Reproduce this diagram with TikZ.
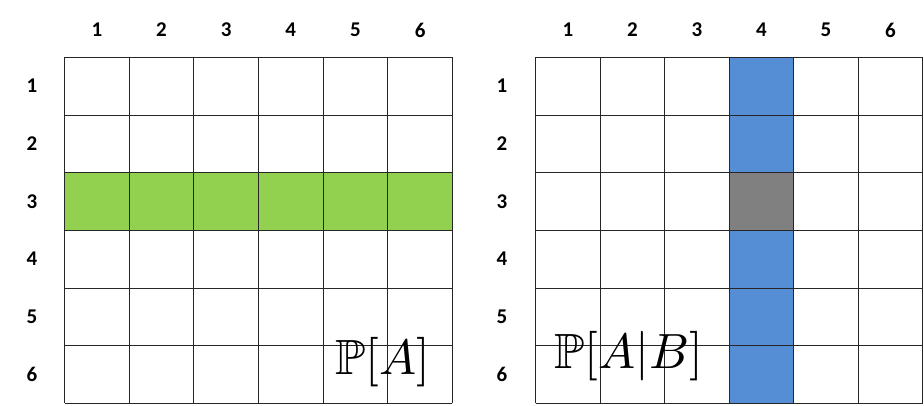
\documentclass[tikz,border=0pt]{standalone}
\usepackage{amssymb}
\usepackage{fontspec}
\newfontfamily\lblfont{Carlito}
\definecolor{cgreen}{RGB}{146,208,80}
\definecolor{cblue}{RGB}{85,142,213}
\definecolor{cgrey}{RGB}{128,128,128}
\tikzset{
  gridline/.style={draw=black!85, line width=0.9pt},
  lbl/.style={font=\lblfont\bfseries\fontsize{21}{23}\selectfont, inner sep=0pt},
  mathlbl/.style={font=\fontsize{10}{12}\selectfont, inner sep=0pt, anchor=base, scale=4.95}
}
\begin{document}
\begin{tikzpicture}[x=1pt,y=-1pt]
\useasboundingbox (0,0) rectangle (924,405);
\def\ya{57.3}\def\rh{57.67}
% left grid
\def\xa{64.5}\def\cw{64.65}
\fill[cgreen] (\xa,\ya+2*\rh) rectangle (\xa+6*\cw,\ya+3*\rh);
\foreach \i in {0,...,6}{
  \draw[gridline] (\xa+\i*\cw,\ya) -- (\xa+\i*\cw,\ya+6*\rh);
  \draw[gridline] (\xa,\ya+\i*\rh) -- (\xa+6*\cw,\ya+\i*\rh);
}
\foreach \i in {1,...,6}{
  \node[lbl] (lc\i) at (\xa+\i*\cw-0.5*\cw,30) {\i};
  \node[lbl] (lr\i) at (32,\ya+\i*\rh-0.5*\rh) {\i};
}
\node[mathlbl] (pa) at (382.5,374.3) {$\mathbb{P}[A]$};
% right grid
\def\xb{535.7}\def\cwb{64.5}
\fill[cblue] (\xb+3*\cwb,\ya) rectangle (\xb+4*\cwb,\ya+6*\rh);
\fill[cgrey] (\xb+3*\cwb,\ya+2*\rh) rectangle (\xb+4*\cwb,\ya+3*\rh);
\foreach \i in {0,...,6}{
  \draw[gridline] (\xb+\i*\cwb,\ya) -- (\xb+\i*\cwb,\ya+6*\rh);
  \draw[gridline] (\xb,\ya+\i*\rh) -- (\xb+6*\cwb,\ya+\i*\rh);
}
\foreach \i in {1,...,6}{
  \node[lbl] (rc\i) at (\xb+\i*\cwb-0.5*\cwb,30) {\i};
  \node[lbl] (rr\i) at (502,\ya+\i*\rh-0.5*\rh) {\i};
}
\node[mathlbl] (pab) at (629,368.3) {$\mathbb{P}[A|B]$};
\end{tikzpicture}
\end{document}
